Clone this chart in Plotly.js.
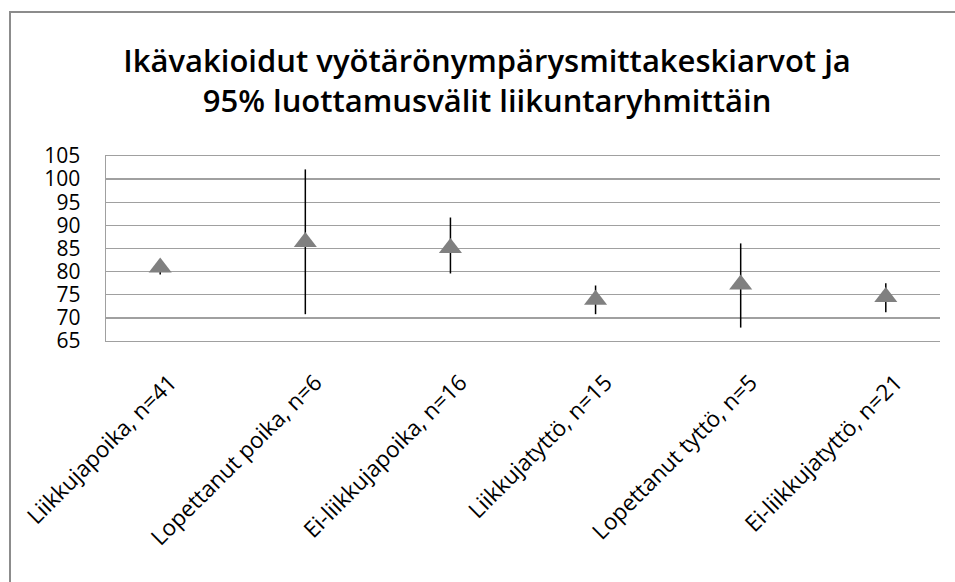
<!DOCTYPE html>
<html>
<head>
<meta charset="utf-8">
<script src="https://cdn.plot.ly/plotly-3.0.1.min.js"></script>
<style>
  html, body { margin: 0; padding: 0; background: #fff; }
  #wrap { position: relative; width: 955px; height: 582px; overflow: hidden; }
  #chart { width: 955px; height: 582px; }
  #frame { position: absolute; left: 9px; top: 11px; width: 980px; height: 600px;
           border: 2px solid #8c8c8c; pointer-events: none; box-sizing: border-box; }
</style>
</head>
<body>
<div id="wrap">
  <div id="chart"></div>
  <div id="frame"></div>
</div>
<script>
const categories = [
  "Liikkujapoika, n=41",
  "Lopettanut poika, n=6",
  "Ei-liikkujapoika, n=16",
  "Liikkujatyttö, n=15",
  "Lopettanut tyttö, n=5",
  "Ei-liikkujatyttö, n=21"
];
const means = [80.9, 86.4, 85.1, 73.9, 77.2, 74.5];
const upper = [82.4, 102.1, 91.7, 77.0, 86.1, 77.5];
const lower = [79.4, 70.8, 79.6, 70.8, 67.9, 71.2];
const yTicks = [65, 70, 75, 80, 85, 90, 95, 100, 105];

const plus = means.map((m, i) => upper[i] - m);
const minus = means.map((m, i) => m - lower[i]);

const font = "Open Sans, Lato, Liberation Sans, sans-serif";

const traces = [
  {
    type: "scatter", mode: "markers",
    x: categories, y: means,
    marker: { size: 19, color: "rgba(0,0,0,0)", symbol: "triangle-up" },
    error_y: { type: "data", symmetric: false, array: plus, arrayminus: minus,
               color: "#000000", thickness: 1.5, width: 0 },
    hoverinfo: "skip", showlegend: false
  },
  {
    type: "scatter", mode: "markers",
    x: categories, y: means,
    marker: { size: 20, color: "#808080", symbol: "triangle-up" },
    showlegend: false
  }
];

const layout = {
  width: 955, height: 582,
  paper_bgcolor: "#ffffff", plot_bgcolor: "#ffffff",
  margin: { l: 106, r: 15, t: 156, b: 241 },
  title: {
    text: "Ikävakioidut vyötärönympärysmittakeskiarvot ja<br>95% luottamusvälit liikuntaryhmittäin",
    font: { family: font, size: 31, color: "#000000", weight: 600 },
    x: 0.51, xanchor: "center", y: 0.877, yanchor: "middle"
  },
  xaxis: {
    type: "category",
    tickangle: -45,
    tickfont: { family: font, size: 22.5, color: "#000000" },
    showgrid: false, zeroline: false,
    showline: true, mirror: true, linecolor: "#a0a0a0", linewidth: 1.4,
    ticks: "",
    ticklabelstandoff: 18,
    ticklabelshift: 10
  },
  yaxis: {
    range: [65, 105],
    tickvals: yTicks,
    ticktext: yTicks.map(String),
    tickfont: { family: font, size: 21, color: "#000000" },
    showgrid: true, gridcolor: "#a0a0a0", gridwidth: 1.4,
    zeroline: false,
    showline: true, linecolor: "#a0a0a0", linewidth: 1.4,
    ticks: "", ticklabelstandoff: 20
  }
};

Plotly.newPlot("chart", traces, layout, { displayModeBar: false, staticPlot: true });
</script>
</body>
</html>
